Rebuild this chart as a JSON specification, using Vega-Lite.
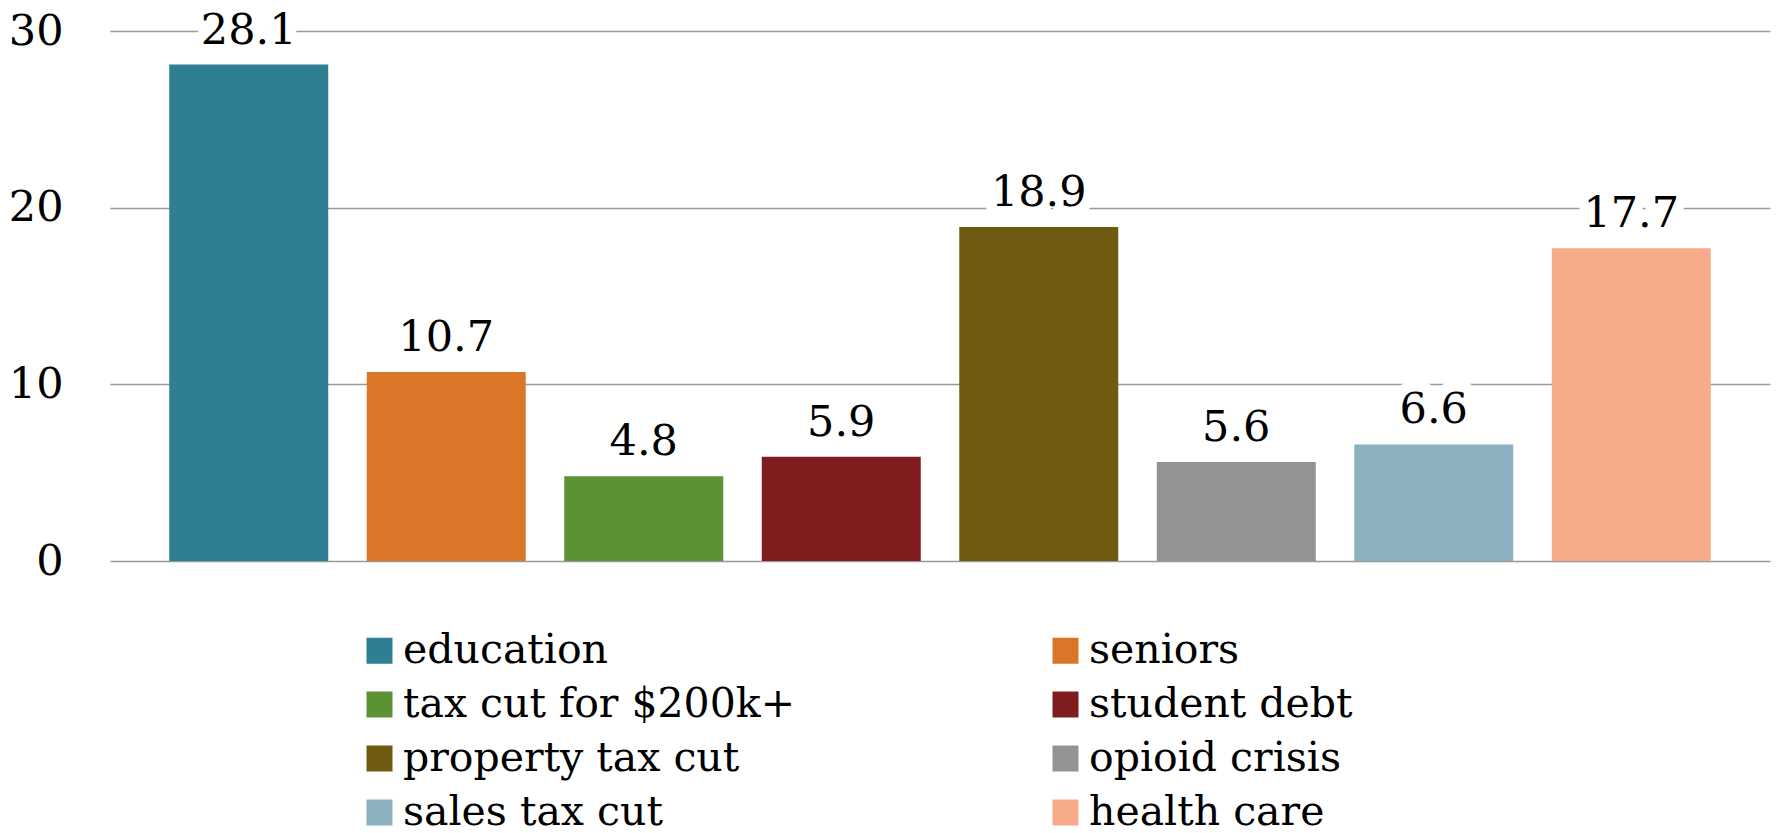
{
  "$schema": "https://vega.github.io/schema/vega-lite/v6.json",
  "autosize": "none",
  "width": 1660,
  "height": 530,
  "padding": {"left": 110, "top": 31, "right": 7, "bottom": 272},
  "background": "white",
  "config": {
    "view": {"stroke": null},
    "font": "DejaVu Serif"
  },
  "data": {
    "values": [
      {"category": "education", "value": 28.1},
      {"category": "seniors", "value": 10.7},
      {"category": "tax cut for $200k+", "value": 4.8},
      {"category": "student debt", "value": 5.9},
      {"category": "property tax cut", "value": 18.9},
      {"category": "opioid crisis", "value": 5.6},
      {"category": "sales tax cut", "value": 6.6},
      {"category": "health care", "value": 17.7}
    ]
  },
  "encoding": {
    "x": {
      "field": "category",
      "type": "nominal",
      "sort": null,
      "axis": null,
      "scale": {"paddingInner": 0.195, "paddingOuter": 0.3}
    },
    "y": {
      "field": "value",
      "type": "quantitative",
      "scale": {"domain": [0, 30], "nice": false},
      "axis": {
        "values": [0, 10, 20, 30],
        "title": null,
        "domain": false,
        "ticks": false,
        "labelFont": "DejaVu Serif",
        "labelFontSize": 43,
        "labelColor": "black",
        "labelPadding": 47,
        "labelBaseline": "middle",
        "gridColor": "#999999",
        "gridWidth": 1.5
      }
    }
  },
  "layer": [
    {
      "mark": {"type": "bar"},
      "encoding": {
        "color": {
          "field": "category",
          "type": "nominal",
          "sort": null,
          "scale": {
            "domain": ["education", "seniors", "tax cut for $200k+", "student debt", "property tax cut", "opioid crisis", "sales tax cut", "health care"],
            "range": ["#2E7F91", "#DB7629", "#5A9234", "#7F1C1E", "#6E5A10", "#939393", "#8CB2BF", "#F8AB8A"]
          },
          "legend": {
            "title": null,
            "orient": "none",
            "legendX": 249,
            "legendY": 599,
            "direction": "horizontal",
            "columns": 2,
            "columnPadding": 250,
            "rowPadding": 12,
            "padding": 0,
            "symbolType": "square",
            "symbolSize": 676,
            "symbolStrokeWidth": 0,
            "symbolOpacity": 1,
            "labelFont": "DejaVu Serif",
            "labelFontSize": 41,
            "labelColor": "black",
            "labelOffset": 3,
            "labelLimit": 600
          }
        }
      }
    },
    {
      "mark": {"type": "text", "baseline": "alphabetic", "dy": -21, "fontSize": 43, "font": "DejaVu Serif", "stroke": "white", "strokeWidth": 22, "fill": "white", "strokeJoin": "round"},
      "encoding": {"text": {"field": "value", "type": "quantitative", "format": ".1f"}}
    },
    {
      "mark": {"type": "text", "baseline": "alphabetic", "dy": -21, "fontSize": 43, "font": "DejaVu Serif", "color": "black"},
      "encoding": {"text": {"field": "value", "type": "quantitative", "format": ".1f"}}
    }
  ]
}
